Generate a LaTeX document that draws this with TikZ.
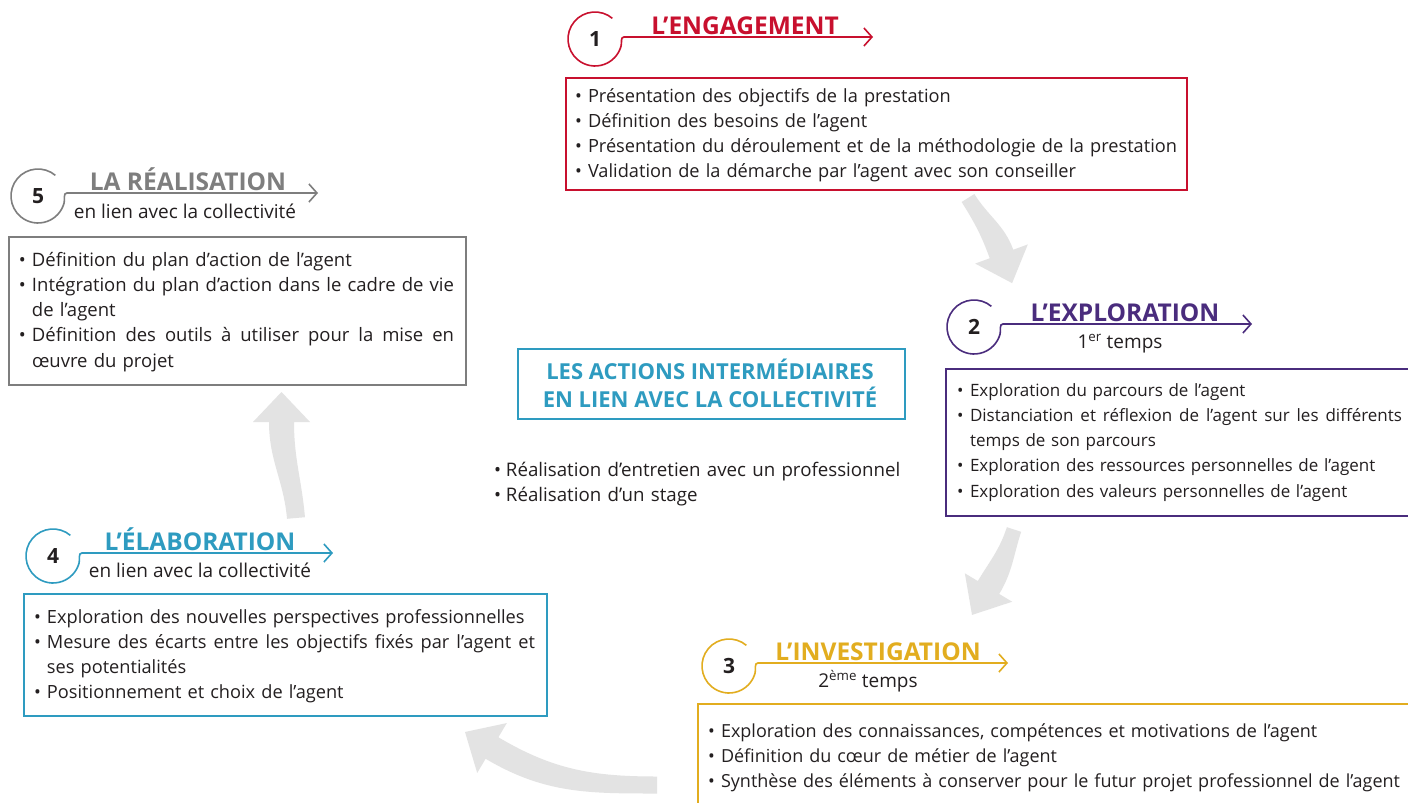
\documentclass[tikz,border=0pt]{standalone}
\usepackage{fontspec}
\setmainfont{Open Sans}
\usetikzlibrary{arrows.meta,calc}
\definecolor{cred}{HTML}{C8102E}
\definecolor{cpurple}{HTML}{4A2C7D}
\definecolor{cyellow}{HTML}{E2AD1F}
\definecolor{cblue}{HTML}{2E9BC0}
\definecolor{cgray}{HTML}{7E7E7E}
\definecolor{ctext}{HTML}{231F20}
\definecolor{carrow}{HTML}{E3E3E3}
% bullet and hanging indent for the list lines
\newcommand\bul{\makebox[13pt][l]{•}}
\newcommand\cont[1]{\makebox[400pt][l]{\hspace*{13pt}#1}}
% justified line of a given width (interword glue made stretchable again)
\newcommand\jline[2]{\makebox[#1][s]{\spaceskip=0pt\xspaceskip=0pt\relax #2}}
% tapered grey flow arrow:
% #1 tail point, #2 tail direction, #3 tail half width,
% #4 head base point, #5 head direction, #6 = #5+180, #7 head length, #8 head half width
\newcommand\flowarrow[8]{%
  \fill[carrow] ($(#1)+(#2+90:#3)$) to[out=#2,in=#6] ($(#4)+(#5+90:12.5)$)
    -- ($(#4)+(#5+90:#8)$) -- ($(#4)+(#5:#7)$) -- ($(#4)+(#5-90:#8)$)
    -- ($(#4)+(#5-90:12.5)$) to[out=#6,in=#2] ($(#1)+(#2-90:#3)$) -- cycle;}
\begin{document}
\begin{tikzpicture}[x=1pt,y=1pt,
  body/.style={anchor=north west, inner sep=0pt, outer sep=0pt, align=left,
    text width=#1, text=ctext},
  fs/.style={font=\fontsize{#1}{25.3}\selectfont},
  panel/.style={draw=#1, line width=2pt, inner sep=0pt, anchor=north west},
  numc/.style={circle, minimum size=54pt, inner sep=0pt, outer sep=0pt,
    font=\bfseries\fontsize{21}{24}\selectfont, text=ctext},
  stitle/.style={anchor=base, inner sep=0pt, font=\bfseries\fontsize{24.5}{26}\selectfont, text=#1},
  ssub/.style={anchor=base, inner sep=0pt, font=\fontsize{19}{22}\selectfont, text=ctext},
  hline/.style={draw=#1, line width=1.6pt, -{Straight Barb[length=8pt,width=18pt]}},
]
\clip (0,0) rectangle (1408,-803);
\fill[white] (0,0) rectangle (1408,-803);

% ---------- grey flow arrows ----------
\coordinate (a1t) at (968,-198);  \coordinate (a1b) at (1001.5,-254);
\coordinate (a2t) at (1014,-529.5); \coordinate (a2b) at (988.5,-587.5);
\coordinate (a3t) at (657,-785);  \coordinate (a3b) at (492,-748);
\coordinate (a4t) at (296,-518);  \coordinate (a4b) at (281.5,-422);
\flowarrow{a1t}{-58}{7.5}{a1b}{-70}{110}{31}{28}
\flowarrow{a2t}{-108}{7.5}{a2b}{-121}{59}{32}{27.6}
\flowarrow{a3t}{180}{8.5}{a3b}{149.3}{329.3}{31.4}{29}
\flowarrow{a4t}{95}{9}{a4b}{90}{270}{30}{28.5}

% ---------- panels ----------
\node[panel=cred, minimum width=621pt, minimum height=112pt] (p1) at (565,-77) {};
\node[panel=cgray, minimum width=457pt, minimum height=148pt] (p5) at (8,-236) {};
\node[panel=cpurple, minimum width=480pt, minimum height=147pt] (p2) at (945,-368) {};
\node[panel=cyellow, minimum width=720pt, minimum height=110pt] (p3) at (697,-703) {};
\node[panel=cblue, minimum width=523pt, minimum height=122pt] (p4) at (23,-593) {};
\node[panel=cblue, minimum width=387pt, minimum height=70pt] (pc) at (517,-348) {};

% ---------- step 1 ----------
\node[numc] (n1) at (595,-39) {1};
\coordinate (s1) at (624,-37); \coordinate (e1) at (873,-37);
\draw[hline=cred] (n1.50) arc[start angle=50,end angle=345,radius=27pt]
  to[out=75,in=180] (s1) -- (e1);
\node[stitle=cred] (h1) at (745,-34) {L’ENGAGEMENT};
\node[body=620pt, fs=18.2] (t1) at (575,-84.3) {%
\strut\bul Présentation des objectifs de la prestation\\
\bul Définition des besoins de l’agent\\
\bul Présentation du déroulement et de la méthodologie de la prestation\\
\bul Validation de la démarche par l’agent avec son conseiller};

% ---------- step 2 ----------
\node[numc] (n2) at (974,-327) {2};
\coordinate (s2) at (1003,-324); \coordinate (e2) at (1252,-324);
\draw[hline=cpurple] (n2.50) arc[start angle=50,end angle=345,radius=27pt]
  to[out=75,in=180] (s2) -- (e2);
\node[stitle=cpurple] (h2) at (1125,-321) {L’EXPLORATION};
\node[ssub] (u2) at (1120,-348) {1\textsuperscript{er} temps};
\node[body=460pt, fs=17] (t2) at (957,-378.3) {%
\strut\bul Exploration du parcours de l’agent\\
\bul\jline{432pt}{Distanciation et réflexion de l’agent sur les différents}\\
\cont{temps de son parcours}\\
\bul Exploration des ressources personnelles de l’agent\\
\bul Exploration des valeurs personnelles de l’agent};

% ---------- step 3 ----------
\node[numc] (n3) at (729,-666) {3};
\coordinate (s3) at (758,-663); \coordinate (e3) at (1008,-663);
\draw[hline=cyellow] (n3.50) arc[start angle=50,end angle=345,radius=27pt]
  to[out=75,in=180] (s3) -- (e3);
\node[stitle=cyellow] (h3) at (878,-660) {L’INVESTIGATION};
\node[ssub] (u3) at (868,-687) {2\textsuperscript{ème} temps};
\node[body=700pt, fs=18] (t3) at (708,-719.3) {%
\strut\bul Exploration des connaissances, compétences et motivations de l’agent\\
\bul Définition du cœur de métier de l’agent\\
\bul Synthèse des éléments à conserver pour le futur projet professionnel de l’agent};

% ---------- step 4 ----------
\node[numc] (n4) at (53,-556) {4};
\coordinate (s4) at (82,-553); \coordinate (e4) at (333,-553);
\draw[hline=cblue] (n4.50) arc[start angle=50,end angle=345,radius=27pt]
  to[out=75,in=180] (s4) -- (e4);
\node[stitle=cblue] (h4) at (200,-550) {L’ÉLABORATION};
\node[ssub] (u4) at (200,-577) {en lien avec la collectivité};
\node[body=520pt, fs=18.2] (t4) at (34,-605.3) {%
\strut\bul Exploration des nouvelles perspectives professionnelles\\
\bul\jline{488pt}{Mesure des écarts entre les objectifs fixés par l’agent et}\\
\cont{ses potentialités}\\
\bul Positionnement et choix de l’agent};

% ---------- step 5 ----------
\node[numc] (n5) at (38,-196) {5};
\coordinate (s5) at (67,-193); \coordinate (e5) at (318,-193);
\draw[hline=cgray] (n5.50) arc[start angle=50,end angle=345,radius=27pt]
  to[out=75,in=180] (s5) -- (e5);
\node[stitle=cgray] (h5) at (188,-190) {LA RÉALISATION};
\node[ssub] (u5) at (185,-218) {en lien avec la collectivité};
\node[body=450pt, fs=18.5] (t5) at (19,-248.3) {%
\strut\bul Définition du plan d’action de l’agent\\
\bul\jline{422pt}{Intégration du plan d’action dans le cadre de vie}\\
\cont{de l’agent}\\
\bul\jline{422pt}{Définition des outils à utiliser pour la mise en}};
% last wrapped line of the list, set on its own
\node[body=420pt, fs=18.5] (t5b) at (32,-349.5) {\strut œuvre du projet};

% ---------- intermediate actions ----------
\node[anchor=center, align=center, inner sep=0pt, text=cblue,
  font=\bfseries\fontsize{22}{28}\selectfont] (hc) at (710,-383)
  {LES ACTIONS INTERMÉDIAIRES\\EN LIEN AVEC LA COLLECTIVITÉ};
\node[body=420pt, fs=18.7] (tc) at (494,-458.3) {%
\strut\makebox[12pt][l]{•}Réalisation d’entretien avec un professionnel\\
\makebox[12pt][l]{•}Réalisation d’un stage};
\end{tikzpicture}
\end{document}
